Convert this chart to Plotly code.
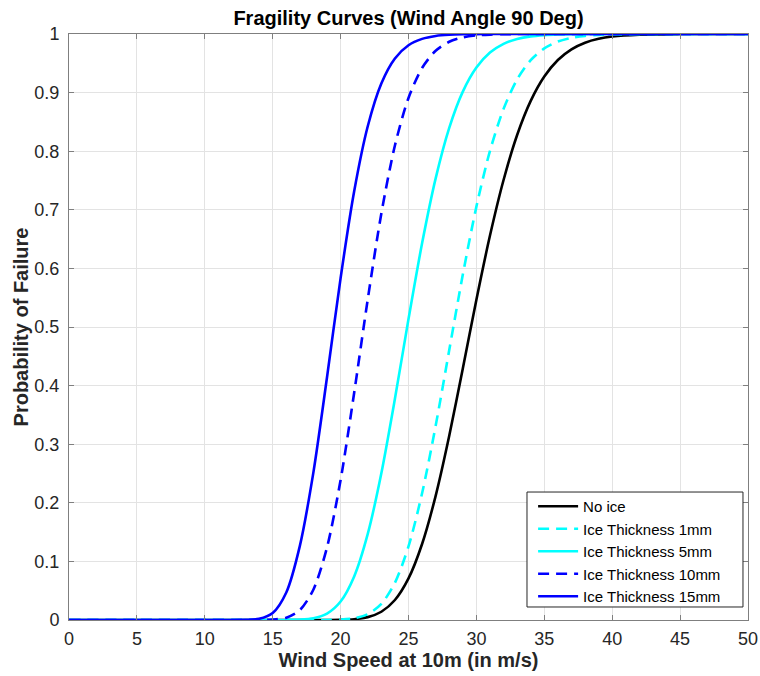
import plotly.graph_objects as go

wind_speed = [0, 5, 10, 13, 14, 15, 16, 17, 18, 19, 20, 21, 22, 23, 24, 25, 26, 27,
              28, 29, 30, 31, 32, 33, 34, 35, 36, 37, 38, 39, 40, 42, 45, 50]

p_no_ice = [0, 0, 0, 0, 0, 0, 0, 0, 0, 0.0001, 0.0003, 0.0014, 0.0049, 0.0141, 0.0341,
            0.0709, 0.1297, 0.2119, 0.3144, 0.4293, 0.5465, 0.6561, 0.7509, 0.8277,
            0.8859, 0.9274, 0.9556, 0.9738, 0.9851, 0.9918, 0.9956, 0.9988, 0.9999, 1]
p_ice_1mm = [0, 0, 0, 0, 0, 0, 0, 0, 0, 0.0001, 0.0007, 0.0029, 0.0098, 0.0274, 0.0635,
             0.1255, 0.2162, 0.3314, 0.4606, 0.5894, 0.7054, 0.8006, 0.8722, 0.9225,
             0.9553, 0.9754, 0.9871, 0.9935, 0.9968, 0.9985, 0.9993, 0.9999, 1, 1]
p_ice_5mm = [0, 0, 0, 0, 0, 0, 0.0001, 0.0006, 0.0030, 0.0110, 0.0316, 0.0744, 0.1469,
             0.2505, 0.3775, 0.5135, 0.6428, 0.7536, 0.8399, 0.9017, 0.9428, 0.9683,
             0.9832, 0.9915, 0.9959, 0.9980, 0.9991, 0.9996, 0.9998, 1, 1, 1, 1, 1]
p_ice_10mm = [0, 0, 0, 0, 0.0001, 0.0007, 0.0040, 0.0169, 0.0521, 0.1239, 0.2389, 0.3878,
              0.5474, 0.6936, 0.8097, 0.8909, 0.9420, 0.9713, 0.9867, 0.9942, 0.9976,
              0.9990, 0.9996, 0.9999, 1, 1, 1, 1, 1, 1, 1, 1, 1, 1]
p_ice_15mm = [0, 0, 0, 0.0002, 0.0020, 0.0120, 0.0470, 0.1265, 0.2524, 0.4142, 0.5835,
              0.7316, 0.8425, 0.9156, 0.9583, 0.9808, 0.9917, 0.9967, 0.9987, 0.9995,
              0.9998, 1, 1, 1, 1, 1, 1, 1, 1, 1, 1, 1, 1, 1]

series_names = ["No ice", "Ice Thickness 1mm", "Ice Thickness 5mm",
                "Ice Thickness 10mm", "Ice Thickness 15mm"]
series_values = [p_no_ice, p_ice_1mm, p_ice_5mm, p_ice_10mm, p_ice_15mm]
series_colors = ["#000000", "#00FFFF", "#00FFFF", "#0000FF", "#0000FF"]
series_dash = ["solid", "11px,7px", "solid", "11px,7px", "solid"]

x_ticks = [0, 5, 10, 15, 20, 25, 30, 35, 40, 45, 50]
y_ticks = [0, 0.1, 0.2, 0.3, 0.4, 0.5, 0.6, 0.7, 0.8, 0.9, 1]
y_tick_text = ["0", "0.1", "0.2", "0.3", "0.4", "0.5", "0.6", "0.7", "0.8", "0.9", "1"]

FONT = "Arial, 'Liberation Sans', Helvetica, sans-serif"

fig = go.Figure()
for name, vals, col, dash in zip(series_names, series_values, series_colors, series_dash):
    fig.add_trace(go.Scatter(
        x=wind_speed, y=vals, mode="lines", name=name,
        line=dict(color=col, width=2.6, dash=dash, shape="spline", smoothing=0.8),
    ))

axis_common = dict(
    showgrid=True, gridcolor="#e3e3e3", gridwidth=1,
    showline=True, linecolor="#7f7f7f", linewidth=1, mirror="ticks",
    ticks="inside", ticklen=5, tickcolor="#7f7f7f",
    zeroline=False, automargin=False,
    tickfont=dict(family=FONT, size=18, color="#262626"),
)

fig.update_layout(
    width=760, height=676,
    margin=dict(l=69, r=12, t=34, b=56),
    paper_bgcolor="white", plot_bgcolor="white",
    font=dict(family=FONT, color="#262626"),
    title=dict(text="<b>Fragility Curves (Wind Angle 90 Deg)</b>",
               x=0.5375, xanchor="center", y=0.973, yanchor="middle",
               font=dict(family=FONT, size=20, color="#000000")),
    xaxis=dict(range=[0, 50], tickvals=x_ticks, ticklabelstandoff=2,
               title=dict(text="<b>Wind Speed at 10m (in m/s)</b>", standoff=2,
                          font=dict(family=FONT, size=20, color="#262626")),
               **axis_common),
    yaxis=dict(range=[0, 1], tickvals=y_ticks, ticktext=y_tick_text, ticklabelstandoff=5,
               title=dict(text="<b>Probability of Failure</b>", standoff=0,
                          font=dict(family=FONT, size=20, color="#262626")),
               **axis_common),
    legend=dict(x=0.6835, y=0.2218, xanchor="left", yanchor="top",
                bgcolor="rgba(0,0,0,0)", borderwidth=0,
                font=dict(family=FONT, size=15, color="#000000"),
                tracegroupgap=0, itemwidth=40),
    shapes=[dict(type="rect", xref="paper", yref="paper",
                 x0=0.6745, x1=0.9926, y0=0.0222, y1=0.2184,
                 line=dict(color="#262626", width=1), fillcolor="white", layer="above")],
    showlegend=True,
)

fig.write_html("out.html")
